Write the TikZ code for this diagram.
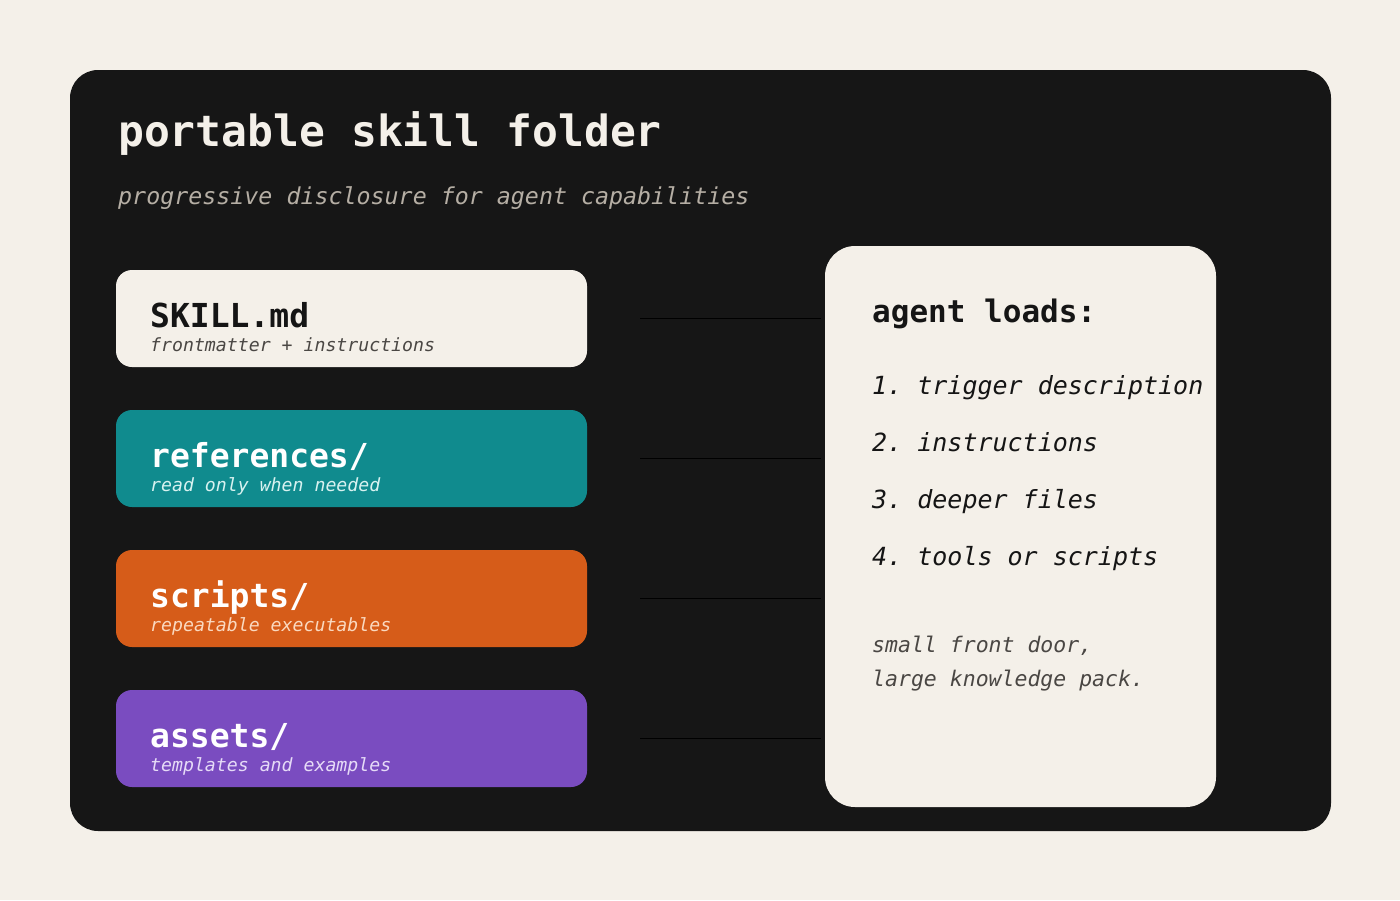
\documentclass[tikz,border=0pt]{standalone}
\usepackage{fontspec}
\setmainfont{DejaVu Sans Mono}
\definecolor{bg}{HTML}{F4F0E9}
\definecolor{panel}{HTML}{161616}
\definecolor{ink}{HTML}{151515}
\definecolor{teal}{HTML}{108B8E}
\definecolor{orng}{HTML}{D65C19}
\definecolor{purp}{HTML}{7A4CC0}
\definecolor{subgray}{HTML}{B5AEA4}
\definecolor{darkgray}{HTML}{4A4744}
\definecolor{tealsub}{HTML}{D8F2F0}
\definecolor{orngsub}{HTML}{FAD9C0}
\definecolor{purpsub}{HTML}{E6DBF7}
\newcommand{\fsz}[1]{\fontsize{#1}{#1}\selectfont}
\frenchspacing
\begin{document}
\begin{tikzpicture}[x=1pt,y=-1pt,
  filebox/.style={rounded corners=16pt, minimum width=471pt, minimum height=97pt, inner sep=0pt, draw=none},
  boxtitle/.style={anchor=base west, inner sep=0pt, font=\fsz{33}\bfseries},
  boxsub/.style={anchor=base west, inner sep=0pt, font=\fsz{18.2}\itshape},
  listitem/.style={anchor=base west, inner sep=0pt, font=\fsz{25}\itshape, text=ink},
  footnote/.style={anchor=base west, inner sep=0pt, font=\fsz{21.5}\itshape, text=darkgray},
  link/.style={draw=black, line width=1.2pt}
]
\fill[bg] (0,0) rectangle (1400,900);
\useasboundingbox (0,0) rectangle (1400,900);
\node[fill=panel, rounded corners=28pt, minimum width=1261pt, minimum height=761pt, inner sep=0pt] (frame) at (700.5,450.5) {};

\node[anchor=base west, inner sep=0pt, font=\fsz{43}\bfseries, text=bg] (title) at (118,146) {portable skill folder};
\node[anchor=base west, inner sep=0pt, font=\fsz{23.3}\itshape, text=subgray] (subtitle) at (118,204) {progressive disclosure for agent capabilities};

\node[filebox, fill=bg] (skill) at (351.5,318.5) {};
\node[filebox, fill=teal] (refs) at (351.5,458.5) {};
\node[filebox, fill=orng] (scripts) at (351.5,598.5) {};
\node[filebox, fill=purp] (assets) at (351.5,738.5) {};

\node[boxtitle, text=ink] (skillt) at (150,327) {SKILL.md};
\node[boxsub, text=darkgray] (skills) at (150,351) {frontmatter + instructions};
\node[boxtitle, text=white] (refst) at (150,467) {references/};
\node[boxsub, text=tealsub] (refss) at (150,491) {read only when needed};
\node[boxtitle, text=white] (scriptst) at (150,607) {scripts/};
\node[boxsub, text=orngsub] (scriptss) at (150,631) {repeatable executables};
\node[boxtitle, text=white] (assetst) at (150,747) {assets/};
\node[boxsub, text=purpsub] (assetss) at (150,771) {templates and examples};

\node[fill=bg, rounded corners=30pt, minimum width=391pt, minimum height=561pt, inner sep=0pt] (agent) at (1020.5,526.5) {};
\node[anchor=base west, inner sep=0pt, font=\fsz{31}\bfseries, text=ink] (agentt) at (872,322) {agent loads:};
\node[listitem] (l1) at (872,394) {1. trigger description};
\node[listitem] (l2) at (872,451) {2. instructions};
\node[listitem] (l3) at (872,508) {3. deeper files};
\node[listitem] (l4) at (872,565) {4. tools or scripts};
\node[footnote] (f1) at (872,652) {small front door,};
\node[footnote] (f2) at (872,686) {large knowledge pack.};

\foreach \b in {skill,refs,scripts,assets}{
  \coordinate (\b s) at ([xshift=53pt]\b.east);
  \coordinate (\b e) at ([xshift=-4pt]agent.west |- \b.east);
  \draw[link] (\b s) -- (\b e);
}
\end{tikzpicture}
\end{document}
